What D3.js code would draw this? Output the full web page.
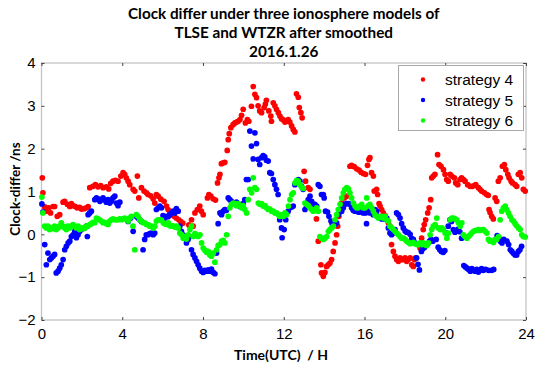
<!DOCTYPE html>
<html>
<head>
<meta charset="utf-8">
<script src="https://cdn.jsdelivr.net/npm/d3@7"></script>
<style>
  body { margin: 0; background: #fff; }
  svg { display: block; }
</style>
</head>
<body>
<svg id="chart"></svg>
<script>
// clock differ, TLSE - WTZR, 2016.1.26  ([hour UTC, ns])
const strategy4 = [
  [0.04,1.32],[0.07,0.97],[0.16,0.64],[0.24,0.54],[0.36,0.62],[0.45,0.50],[0.57,0.65],[0.65,0.65],[0.78,0.42],[0.90,0.46],
  [1.07,0.75],[1.15,0.77],[1.28,0.70],[1.40,0.65],[1.48,0.72],[1.56,0.67],[1.68,0.65],[1.77,0.62],[1.89,0.63],[1.98,0.59],
  [2.11,0.60],[2.22,0.62],[2.31,0.65],[2.39,1.09],[2.55,1.12],[2.67,1.16],[2.80,1.11],[2.93,1.14],[3.05,1.09],[3.21,1.11],
  [3.33,1.06],[3.43,1.19],[3.54,1.24],[3.66,1.26],[3.79,1.24],[3.93,1.36],[4.04,1.44],[4.12,1.40],[4.20,1.32],[4.29,1.24],
  [4.37,1.16],[4.54,1.05],[4.62,1.01],[4.75,1.36],[4.82,0.85],[4.95,1.09],[5.08,1.01],[5.20,0.97],[5.28,0.93],[5.41,0.90],
  [5.53,0.83],[5.61,0.73],[5.69,0.93],[5.78,0.89],[5.91,0.82],[6.07,0.77],[6.19,0.66],[6.27,0.58],[6.36,0.50],[6.43,0.46],
  [6.57,0.42],[6.68,0.38],[6.80,0.34],[6.90,0.30],[7.00,0.26],[7.30,0.22],[7.43,0.34],[7.51,0.19],[7.60,0.50],[7.72,0.58],
  [7.84,0.66],[7.92,0.54],[8.01,0.46],[8.22,0.85],[8.29,0.93],[8.39,0.89],[8.50,0.83],[8.62,0.80],[8.72,1.20],[8.79,1.32],
  [8.84,1.40],[8.91,1.65],[9.00,1.67],[9.08,1.68],[9.20,1.96],[9.25,2.21],[9.30,2.35],[9.38,2.49],[9.49,2.56],[9.58,2.60],
  [9.66,2.62],[9.74,2.64],[9.83,2.68],[9.91,2.78],[9.99,2.92],[10.10,2.60],[10.20,2.68],[10.27,2.64],[10.40,2.99],[10.49,3.45],
  [10.57,3.27],[10.65,3.19],[10.73,3.00],[10.81,2.88],[10.90,2.84],[11.03,2.96],[11.09,3.04],[11.14,3.13],[11.26,2.88],[11.36,2.76],
  [11.39,2.64],[11.48,3.07],[11.56,3.00],[11.64,2.92],[11.73,2.84],[11.81,2.76],[11.89,2.70],[11.98,2.67],[12.06,2.62],[12.14,2.64],
  [12.22,2.68],[12.30,2.62],[12.39,2.53],[12.47,2.45],[12.55,2.39],[12.63,3.28],[12.72,3.20],[12.77,2.96],[12.85,2.84],[12.91,2.72],
  [13.01,1.47],[13.08,1.24],[13.21,1.09],[13.30,1.05],[13.62,0.36],[13.71,-0.16],[13.84,-0.71],[13.87,-0.90],[13.96,-0.98],[14.04,-0.89],
  [14.12,-0.75],[14.20,-0.71],[14.29,-0.67],[14.37,-0.59],[14.45,-0.40],[14.54,-0.20],[14.62,-0.01],[14.67,0.19],[14.73,0.42],[14.78,0.58],
  [14.86,0.73],[15.00,0.85],[15.11,0.89],[15.28,1.59],[15.36,1.61],[15.49,1.58],[15.61,1.53],[15.73,1.50],[15.83,1.45],[15.94,1.42],
  [16.05,1.40],[16.15,1.61],[16.22,1.75],[16.27,1.79],[16.35,1.44],[16.44,1.36],[16.48,1.01],[16.60,1.05],[16.65,0.93],[16.72,0.72],
  [16.77,0.66],[16.85,0.58],[16.93,0.50],[17.02,0.44],[17.10,0.34],[17.18,0.27],[17.26,0.19],[17.34,-0.24],[17.43,-0.40],[17.51,-0.51],
  [17.59,-0.59],[17.68,-0.63],[17.76,-0.55],[17.84,-0.59],[17.92,-0.59],[18.01,-0.55],[18.09,-0.63],[18.17,-0.59],[18.26,-0.55],[18.34,-0.71],
  [18.42,-0.75],[18.47,-0.59],[18.53,-0.55],[18.75,-0.32],[18.83,-0.09],[18.91,0.11],[18.96,0.23],[19.03,0.34],[19.13,0.50],[19.20,0.62],
  [19.28,0.81],[19.33,1.32],[19.41,1.36],[19.49,1.40],[19.62,1.86],[19.69,1.63],[19.79,1.59],[19.91,1.51],[19.99,1.40],[20.07,1.28],
  [20.15,1.24],[20.24,1.40],[20.32,1.36],[20.45,1.32],[20.52,1.20],[20.62,1.16],[20.73,1.28],[20.81,1.32],[20.90,1.28],[20.98,1.24],
  [21.11,1.16],[21.23,1.12],[21.34,1.12],[21.44,1.14],[21.51,1.16],[21.64,1.09],[21.72,1.05],[21.80,1.01],[21.94,0.97],[22.05,0.93],
  [22.13,0.91],[22.17,0.58],[22.22,0.51],[22.30,0.42],[22.38,0.36],[22.47,0.85],[22.55,0.77],[22.63,1.24],[22.72,1.32],[22.83,1.59],
  [22.93,1.63],[23.00,1.51],[23.10,1.40],[23.16,1.32],[23.26,1.24],[23.33,1.20],[23.46,1.16],[23.54,1.12],[23.62,1.40],[23.71,1.44],
  [23.79,1.32],[23.87,1.05],[23.96,1.01]
];

const strategy5 = [
  [0.02,0.71],[0.07,0.52],[0.16,-0.24],[0.24,-0.71],[0.32,-0.44],[0.41,-0.59],[0.49,-0.55],[0.57,-0.51],[0.65,-0.47],[0.73,-0.90],
  [0.82,-0.86],[0.90,-0.79],[0.98,-0.71],[1.07,-0.59],[1.15,-0.36],[1.23,-0.28],[1.32,-0.20],[1.40,-0.16],[1.48,-0.05],[1.56,-0.01],
  [1.65,0.07],[1.73,-0.08],[1.81,-0.01],[1.89,0.07],[1.97,0.11],[2.14,0.15],[2.22,0.19],[2.27,-0.05],[2.31,0.46],[2.39,0.50],
  [2.47,0.54],[2.64,0.81],[2.72,0.85],[2.80,0.83],[2.89,0.77],[2.97,0.81],[3.05,0.85],[3.13,0.80],[3.21,0.75],[3.30,0.81],
  [3.38,0.73],[3.46,0.77],[3.54,0.85],[3.63,0.89],[3.71,0.73],[3.79,0.67],[3.88,0.75],[4.29,0.30],[4.42,0.38],[4.54,0.07],
  [4.70,0.42],[4.78,0.38],[4.87,0.34],[4.95,0.30],[5.03,-0.36],[5.11,-0.12],[5.19,-0.01],[5.28,-0.01],[5.36,0.02],[5.44,0.03],
  [5.53,-0.01],[5.61,0.03],[5.69,0.58],[5.78,0.62],[5.86,0.66],[5.94,0.62],[6.02,0.44],[6.11,0.38],[6.19,0.42],[6.27,0.41],
  [6.36,0.46],[6.43,0.50],[6.52,0.54],[6.60,0.50],[6.68,0.60],[6.77,0.54],[6.85,0.19],[6.93,0.07],[7.01,-0.01],[7.10,-0.08],
  [7.18,-0.20],[7.26,-0.12],[7.34,-0.05],[7.43,-0.36],[7.51,-0.47],[7.60,-0.55],[7.68,-0.63],[7.76,-0.71],[7.84,-0.79],[7.93,-0.86],
  [8.01,-0.89],[8.09,-0.84],[8.17,-0.86],[8.26,-0.83],[8.34,-0.86],[8.42,-0.81],[8.51,-0.89],[8.59,-0.92],[8.67,-0.44],[8.75,0.25],
  [8.84,0.50],[8.92,0.46],[9.00,0.54],[9.08,0.58],[9.16,0.56],[9.25,0.85],[9.33,0.81],[9.41,0.77],[9.49,0.73],[9.58,0.72],
  [9.66,0.75],[9.74,0.72],[9.83,0.65],[9.91,0.69],[9.99,0.72],[10.07,0.81],[10.15,1.28],[10.24,1.28],[10.32,2.41],[10.40,2.06],
  [10.49,1.76],[10.57,2.37],[10.65,2.12],[10.73,1.75],[10.81,1.63],[10.90,1.79],[10.98,1.84],[11.06,1.81],[11.14,1.73],[11.23,1.71],
  [11.31,1.44],[11.39,1.42],[11.48,1.28],[11.56,1.16],[11.64,1.05],[11.72,0.93],[11.80,0.34],[11.89,0.15],[11.92,-0.08],[12.02,0.11],
  [12.10,0.34],[12.22,0.54],[12.30,0.62],[12.39,0.64],[12.47,0.66],[12.55,1.16],[12.63,1.20],[12.72,1.28],[12.80,1.24],[12.88,1.12],
  [12.96,1.05],[13.05,0.58],[13.13,0.66],[13.21,0.81],[13.30,0.89],[13.38,0.77],[13.46,0.70],[13.54,0.70],[13.63,0.66],[13.71,1.16],
  [13.79,1.12],[13.87,0.93],[13.96,0.93],[14.00,0.85],[14.07,0.54],[14.17,0.52],[14.24,0.42],[14.34,0.31],[14.40,0.25],[14.45,0.20],
  [14.53,0.23],[14.62,0.27],[14.70,0.46],[14.78,0.52],[14.87,0.54],[14.95,0.62],[15.03,0.70],[15.11,0.72],[15.20,0.72],[15.28,0.70],
  [15.36,0.62],[15.44,0.56],[15.53,0.54],[15.61,0.54],[15.69,0.52],[15.77,0.52],[15.86,0.54],[15.94,0.50],[16.05,0.50],[16.10,0.25],
  [16.19,0.54],[16.27,0.50],[16.35,0.52],[16.43,0.46],[16.52,0.58],[16.60,0.54],[16.68,0.42],[16.77,0.38],[16.85,0.36],[16.93,0.38],
  [17.01,0.36],[17.10,0.38],[17.18,0.15],[17.26,0.03],[17.34,-0.01],[17.43,0.03],[17.51,0.11],[17.59,0.50],[17.68,0.46],[17.76,0.38],
  [17.84,0.25],[17.92,0.15],[18.01,0.08],[18.09,0.05],[18.17,0.04],[18.26,0.00],[18.34,-0.10],[18.42,-0.12],[18.50,-0.20],[18.58,-0.55],
  [18.65,-0.70],[18.72,-0.83],[18.82,-0.40],[18.90,-0.33],[18.98,-0.30],[19.06,-0.25],[19.14,-0.22],[19.22,-0.16],[19.30,-0.12],[19.38,-0.16],
  [19.55,-0.12],[19.65,-0.30],[19.73,-0.36],[19.81,-0.40],[19.90,-0.42],[19.98,-0.38],[20.06,0.03],[20.15,0.19],[20.23,0.34],[20.31,0.30],
  [20.40,0.11],[20.48,0.05],[20.56,0.08],[20.64,0.12],[20.72,0.06],[20.81,-0.09],[20.92,-0.73],[21.00,-0.76],[21.08,-0.79],[21.16,-0.82],
  [21.24,-0.86],[21.32,-0.80],[21.40,-0.84],[21.48,-0.86],[21.56,-0.82],[21.64,-0.88],[21.72,-0.84],[21.80,-0.80],[21.88,-0.84],[22.00,-0.82],
  [22.15,-0.84],[22.30,-0.84],[22.40,-0.82],[22.57,-0.03],[22.65,-0.08],[22.73,-0.16],[22.81,-0.20],[22.90,-0.12],[23.06,-0.16],[23.14,-0.24],
  [23.22,-0.36],[23.30,-0.40],[23.38,-0.45],[23.46,-0.48],[23.54,-0.48],[23.62,-0.40],[23.70,-0.36],[23.78,-0.28]
];

const strategy6 = [
  [0.02,0.87],[0.07,0.50],[0.16,0.19],[0.24,0.15],[0.32,0.19],[0.40,0.11],[0.49,0.15],[0.57,0.13],[0.65,0.19],[0.73,0.11],
  [0.82,0.15],[0.90,0.19],[0.98,0.27],[1.07,0.19],[1.15,0.15],[1.23,0.11],[1.31,0.19],[1.40,0.15],[1.48,0.19],[1.56,0.23],
  [1.64,0.19],[1.73,0.15],[1.81,0.19],[1.89,0.11],[1.97,0.15],[2.06,0.13],[2.14,0.15],[2.22,0.19],[2.30,0.19],[2.39,0.23],
  [2.47,0.25],[2.55,0.28],[2.64,0.27],[2.72,0.38],[2.80,0.36],[2.88,0.34],[2.96,0.31],[3.05,0.27],[3.13,0.28],[3.21,0.25],
  [3.30,0.23],[3.38,0.31],[3.46,0.34],[3.54,0.36],[3.63,0.34],[3.71,0.34],[3.79,0.34],[3.87,0.36],[3.96,0.34],[4.04,0.36],
  [4.12,0.38],[4.20,0.36],[4.29,0.31],[4.37,0.38],[4.45,0.42],[4.53,0.19],[4.62,-0.36],[4.70,0.46],[4.78,0.42],[4.87,0.34],
  [4.95,0.31],[5.03,0.27],[5.11,0.27],[5.20,0.23],[5.28,0.23],[5.36,0.19],[5.44,0.19],[5.53,0.15],[5.61,0.19],[5.69,0.31],
  [5.77,0.34],[5.86,0.34],[5.94,0.33],[6.03,0.27],[6.11,0.25],[6.19,0.23],[6.28,0.27],[6.36,0.20],[6.44,0.19],[6.52,0.20],
  [6.61,0.17],[6.69,0.19],[6.77,0.15],[6.85,0.03],[6.94,-0.01],[7.02,-0.09],[7.10,-0.05],[7.18,-0.11],[7.27,-0.01],[7.35,0.11],
  [7.43,0.19],[7.51,-0.05],[7.60,0.02],[7.68,-0.01],[7.76,-0.05],[7.85,-0.01],[7.93,-0.20],[8.01,-0.32],[8.09,-0.37],[8.18,-0.42],
  [8.26,-0.40],[8.34,-0.48],[8.42,-0.51],[8.51,-0.44],[8.59,-0.65],[8.67,-0.36],[8.75,-0.26],[8.84,-0.24],[8.92,-0.16],[9.00,-0.14],
  [9.08,-0.20],[9.17,-0.01],[9.25,0.42],[9.33,0.62],[9.41,0.70],[9.50,0.73],[9.58,0.72],[9.66,0.67],[9.74,0.72],[9.83,0.66],
  [9.91,0.62],[9.99,0.67],[10.07,0.58],[10.16,0.50],[10.24,0.81],[10.32,1.05],[10.41,0.97],[10.49,1.32],[10.57,1.09],[10.65,1.05],
  [10.74,0.73],[10.82,0.70],[10.90,0.72],[10.98,0.66],[11.07,0.67],[11.15,0.62],[11.23,0.58],[11.31,0.59],[11.40,0.54],[11.48,0.54],
  [11.56,0.50],[11.64,0.50],[11.73,0.46],[11.81,0.42],[11.89,0.46],[11.98,0.42],[12.06,0.50],[12.14,0.46],[12.23,0.66],[12.31,0.81],
  [12.39,0.93],[12.47,0.97],[12.56,1.20],[12.64,1.26],[12.72,1.24],[12.80,1.16],[12.89,1.10],[12.97,1.07],[13.05,0.73],[13.13,0.70],
  [13.22,0.67],[13.30,0.62],[13.38,0.58],[13.46,0.54],[13.55,0.58],[13.63,0.62],[13.71,0.54],[13.79,-0.05],[13.88,-0.09],[13.96,-0.12],
  [14.04,-0.09],[14.13,-0.05],[14.21,0.07],[14.29,0.11],[14.37,0.15],[14.46,0.19],[14.54,0.34],[14.62,0.46],[14.70,0.58],[14.79,0.70],
  [14.87,0.85],[14.95,0.97],[15.03,1.05],[15.12,1.09],[15.20,1.06],[15.28,0.97],[15.36,0.85],[15.45,0.73],[15.53,0.66],[15.61,0.62],
  [15.69,0.62],[15.78,0.66],[15.86,0.70],[15.94,0.62],[16.03,0.62],[16.11,0.85],[16.19,0.67],[16.27,0.70],[16.36,0.62],[16.44,0.54],
  [16.52,0.46],[16.60,0.42],[16.69,0.38],[16.77,0.41],[16.85,0.42],[16.93,0.38],[17.02,0.42],[17.10,0.34],[17.18,0.31],[17.26,0.19],
  [17.35,0.15],[17.43,0.11],[17.51,0.07],[17.59,0.03],[17.68,-0.01],[17.76,-0.05],[17.84,-0.09],[17.93,-0.09],[18.01,-0.12],[18.09,-0.16],
  [18.18,-0.19],[18.26,-0.22],[18.34,-0.20],[18.42,-0.19],[18.51,-0.22],[18.59,-0.24],[18.67,-0.24],[18.75,-0.20],[18.84,-0.24],[18.92,-0.20],
  [19.00,-0.24],[19.08,-0.26],[19.17,-0.20],[19.25,-0.01],[19.33,0.11],[19.41,0.19],[19.50,0.23],[19.58,0.38],[19.66,0.15],[19.75,0.11],
  [19.83,0.15],[19.91,0.11],[19.99,0.03],[20.08,-0.09],[20.16,0.03],[20.24,0.34],[20.32,0.38],[20.41,0.38],[20.49,0.36],[20.57,0.34],
  [20.65,0.27],[20.74,0.19],[20.82,0.27],[20.90,-0.01],[20.98,-0.05],[21.07,-0.09],[21.15,-0.05],[21.23,-0.01],[21.31,0.03],[21.40,0.07],
  [21.48,0.09],[21.56,0.09],[21.64,0.11],[21.73,0.09],[21.81,0.11],[21.89,0.11],[21.98,0.07],[22.06,0.03],[22.14,-0.12],[22.22,-0.16],
  [22.31,-0.16],[22.39,-0.19],[22.47,-0.12],[22.55,-0.12],[22.64,-0.05],[22.72,0.34],[22.80,0.54],[22.88,0.62],[22.97,0.66],[23.05,0.58],
  [23.13,0.50],[23.21,0.42],[23.30,0.34],[23.38,0.31],[23.46,0.25],[23.54,0.20],[23.63,0.15],[23.71,0.11],[23.79,-0.01],[23.87,-0.05],
  [23.96,-0.06]
];

const seriesNames = ["strategy 4", "strategy 5", "strategy 6"];
const seriesColors = ["#ff0000", "#0000ff", "#00ff00"];
const xTicks = [0, 4, 8, 12, 16, 20, 24];
const yTicks = [-2, -1, 0, 1, 2, 3, 4];
const titleLines = ["Clock differ under three ionosphere models of", "TLSE and WTZR after smoothed", "2016.1.26"];

const width = 550, height = 373;
const plotLeft = 41.5, plotRight = 526, plotTop = 63, plotBottom = 320;

const svg = d3.select("#chart")
    .attr("width", width)
    .attr("height", height);

svg.append("rect").attr("width", width).attr("height", height).attr("fill", "#fff");

//scales
const xScale = d3.scaleLinear().domain([0, 24]).range([plotLeft, plotRight]);
const yScale = d3.scaleLinear().domain([-2, 4]).range([plotBottom, plotTop]);

//axis box (light grey like the original)
svg.append("rect")
    .attr("x", plotLeft)
    .attr("y", plotTop)
    .attr("width", plotRight - plotLeft)
    .attr("height", plotBottom - plotTop)
    .attr("fill", "none")
    .attr("stroke", "#c4c4c4")
    .attr("stroke-width", 1.3);

const tickFont = "'Liberation Sans', Arial, sans-serif";

//bottom axis with labels, ticks pointing inward
const xAxis = svg.append("g")
    .attr("transform", `translate(0,${plotBottom})`)
    .call(d3.axisBottom(xScale).tickValues(xTicks).tickSize(-3).tickPadding(8.5).tickFormat(d3.format("d")));
//left axis
const yAxis = svg.append("g")
    .attr("transform", `translate(${plotLeft},0)`)
    .call(d3.axisLeft(yScale).tickValues(yTicks).tickSize(-3).tickPadding(6).tickFormat(d3.format("d")));
//mirrored ticks on top and right, no labels
const xTop = svg.append("g")
    .attr("transform", `translate(0,${plotTop})`)
    .call(d3.axisTop(xScale).tickValues(xTicks).tickSize(-3).tickFormat(""));
const yRight = svg.append("g")
    .attr("transform", `translate(${plotRight},0)`)
    .call(d3.axisRight(yScale).tickValues(yTicks).tickSize(-3).tickFormat(""));

[xAxis, yAxis, xTop, yRight].forEach(g => {
    g.select(".domain").remove();
    g.selectAll(".tick line").attr("stroke", "#444").attr("stroke-width", 1);
    g.selectAll(".tick text")
        .attr("fill", "#000")
        .style("font-family", tickFont)
        .style("font-size", "15px");
});

//dots, strategy 4 first so strategy 6 sits on top
[strategy4, strategy5, strategy6].forEach((data, i) => {
    svg.append("g")
        .selectAll("circle")
        .data(data)
        .enter()
        .append("circle")
        .attr("cx", d => xScale(d[0]))
        .attr("cy", d => yScale(d[1]))
        .attr("r", 2.85)
        .attr("fill", seriesColors[i]);
});

const labelFont = "Lato, 'Open Sans', sans-serif";

//title
svg.append("g")
    .selectAll("text")
    .data(titleLines)
    .enter()
    .append("text")
    .attr("x", (plotLeft + plotRight) / 2)
    .attr("y", (d, i) => 18.5 + i * 19)
    .attr("text-anchor", "middle")
    .style("font-family", labelFont)
    .style("font-weight", "700")
    .style("font-size", "15.3px")
    .attr("fill", "#000")
    .text(d => d);

//axis titles
svg.append("text")
    .attr("x", 281)
    .attr("y", 360)
    .attr("text-anchor", "middle")
    .style("font-family", labelFont)
    .style("font-weight", "700")
    .style("font-size", "14px")
    .style("white-space", "pre")
    .text("Time(UTC)  / H");

svg.append("text")
    .attr("transform", "translate(19.5,189) rotate(-90)")
    .attr("text-anchor", "middle")
    .style("font-family", labelFont)
    .style("font-weight", "700")
    .style("font-size", "13.5px")
    .style("white-space", "pre")
    .text("Clock-differ /ns");

//legend
const legend = svg.append("g");
legend.append("rect")
    .attr("x", 398.5)
    .attr("y", 65.5)
    .attr("width", 125)
    .attr("height", 65)
    .attr("fill", "#fff")
    .attr("stroke", "#a8a8a8")
    .attr("stroke-width", 1);

const legendRows = legend.selectAll("g.row")
    .data(seriesNames)
    .enter()
    .append("g")
    .attr("class", "row")
    .attr("transform", (d, i) => `translate(0,${79.5 + i * 20.5})`);

legendRows.append("circle")
    .attr("cx", 423)
    .attr("cy", 0)
    .attr("r", 2.2)
    .attr("fill", (d, i) => seriesColors[i]);

legendRows.append("text")
    .attr("x", 445)
    .attr("y", 5.5)
    .style("font-family", tickFont)
    .style("font-size", "15.5px")
    .attr("fill", "#000")
    .text(d => d);
</script>
</body>
</html>
